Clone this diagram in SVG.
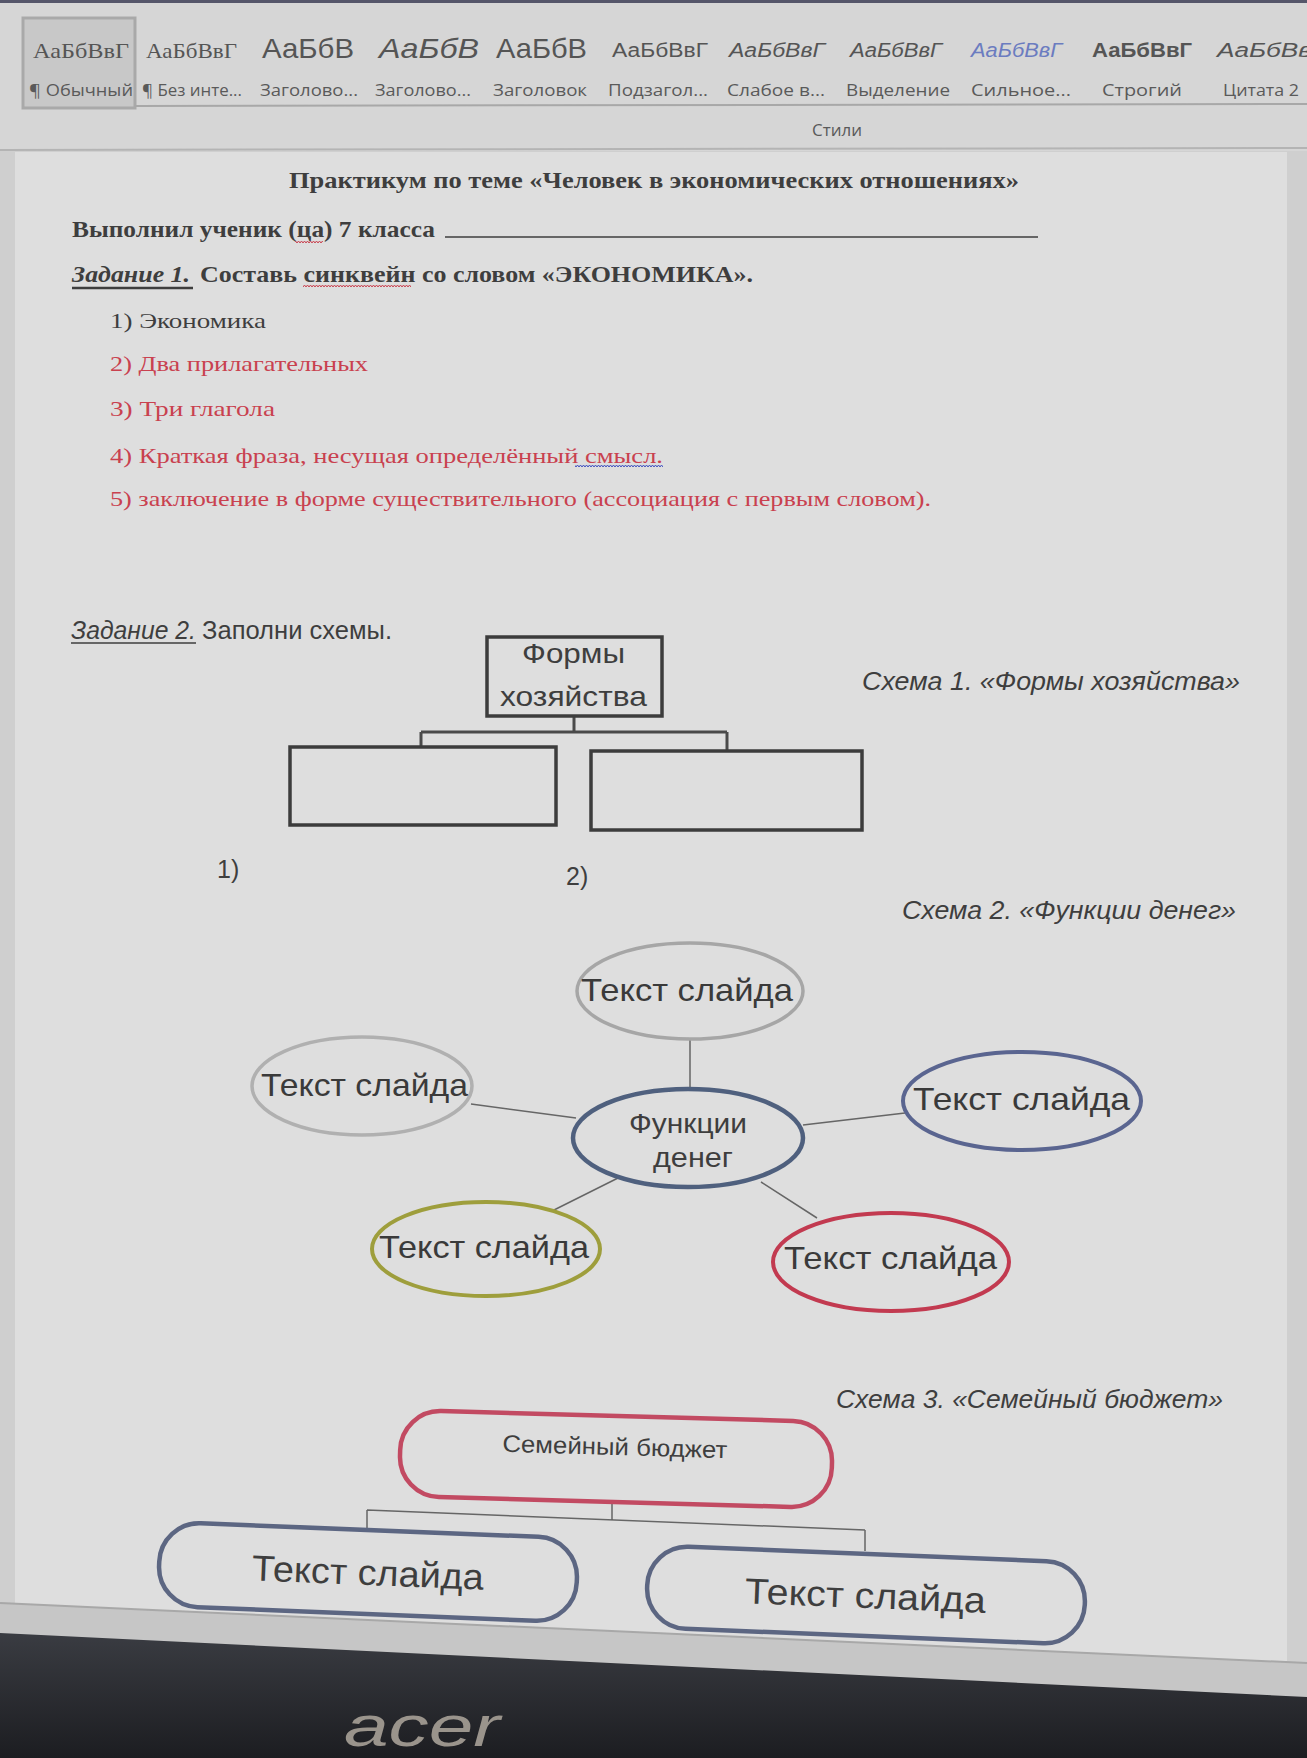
<svg xmlns="http://www.w3.org/2000/svg" width="1307" height="1758" viewBox="0 0 1307 1758">
<defs>
<style>
.serif{font-family:"Liberation Serif","DejaVu Serif",serif;}
.sans{font-family:"Liberation Sans","DejaVu Sans",sans-serif;}
.ui{font-family:"Open Sans","Liberation Sans",sans-serif;}
.dark{fill:#3e3e3e;}
.red{fill:#c9414f;}
.rib{fill:#555;}
.lbl{font-size:17px;fill:#5a5a5a;}
.box{fill:none;stroke:#3c3c3c;stroke-width:3.5;}
.conn{fill:none;stroke:#4a4a4a;stroke-width:3;}
.thin{fill:none;stroke:#666;stroke-width:1.5;}
.ell{fill:none;}
.slide{font-size:32px;fill:#3a3a3a;text-anchor:start;}
</style>
<pattern id="wavyR" width="6" height="4" patternUnits="userSpaceOnUse">
<path d="M0 3 L1.5 1 L3 3 L4.5 1 L6 3" fill="none" stroke="#c9414f" stroke-width="1"/>
</pattern>
<pattern id="wavyB" width="6" height="4" patternUnits="userSpaceOnUse">
<path d="M0 3 L1.5 1 L3 3 L4.5 1 L6 3" fill="none" stroke="#4050c0" stroke-width="1"/>
</pattern>
<linearGradient id="bez" x1="0" y1="0" x2="0" y2="1">
<stop offset="0" stop-color="#3a3c42"/>
<stop offset="1" stop-color="#1c1d21"/>
</linearGradient>
</defs>

<!-- background -->
<rect x="0" y="0" width="1307" height="1758" fill="#cfcfcf"/>
<rect x="0" y="0" width="1307" height="3" fill="#55566a"/>
<!-- ribbon -->
<g id="ribbon">
<rect x="0" y="3" width="1307" height="148" fill="#d6d6d6"/>
<rect x="23" y="18" width="112" height="90" fill="#c8c8c8" stroke="#a9a9a9" stroke-width="3"/>
<line x1="135" y1="106" x2="1307" y2="104" stroke="#a8a8a8" stroke-width="2"/>
<line x1="0" y1="150" x2="1307" y2="148" stroke="#b4b4b4" stroke-width="2"/>
<text class="serif rib" x="33" y="58" font-size="22" textLength="96" lengthAdjust="spacingAndGlyphs">АаБбВвГ</text>
<text class="serif rib" x="146" y="58" font-size="22" textLength="91" lengthAdjust="spacingAndGlyphs">АаБбВвГ</text>
<text class="sans rib" x="262" y="58" font-size="28" textLength="92" lengthAdjust="spacingAndGlyphs">АаБбВ</text>
<text class="sans rib" x="379" y="58" font-size="28" font-style="italic" textLength="100" lengthAdjust="spacingAndGlyphs">АаБбВ</text>
<text class="sans rib" x="496" y="58" font-size="28" textLength="91" lengthAdjust="spacingAndGlyphs">АаБбВ</text>
<text class="sans rib" x="612" y="57" font-size="20" textLength="96" lengthAdjust="spacingAndGlyphs">АаБбВвГ</text>
<text class="sans rib" x="729" y="57" font-size="20" font-style="italic" textLength="96" lengthAdjust="spacingAndGlyphs">АаБбВвГ</text>
<text class="sans rib" x="850" y="57" font-size="20" font-style="italic" textLength="92" lengthAdjust="spacingAndGlyphs">АаБбВвГ</text>
<text class="sans" x="971" y="57" font-size="20" font-style="italic" fill="#6b7cc0" textLength="91" lengthAdjust="spacingAndGlyphs">АаБбВвГ</text>
<text class="sans rib" x="1092" y="57" font-size="20" font-weight="bold" textLength="100" lengthAdjust="spacingAndGlyphs">АаБбВвГ</text>
<text class="sans rib" x="1217" y="57" font-size="20" font-style="italic" textLength="95" lengthAdjust="spacingAndGlyphs">АаБбВв</text>
<text class="ui lbl" x="29" y="96" textLength="104" lengthAdjust="spacingAndGlyphs">¶ Обычный</text>
<text class="ui lbl" x="142" y="96" textLength="100" lengthAdjust="spacingAndGlyphs">¶ Без инте...</text>
<text class="ui lbl" x="260" y="96" textLength="98" lengthAdjust="spacingAndGlyphs">Заголово...</text>
<text class="ui lbl" x="375" y="96" textLength="96" lengthAdjust="spacingAndGlyphs">Заголово...</text>
<text class="ui lbl" x="493" y="96" textLength="94" lengthAdjust="spacingAndGlyphs">Заголовок</text>
<text class="ui lbl" x="608" y="96" textLength="100" lengthAdjust="spacingAndGlyphs">Подзагол...</text>
<text class="ui lbl" x="727" y="96" textLength="98" lengthAdjust="spacingAndGlyphs">Слабое в...</text>
<text class="ui lbl" x="846" y="96" textLength="104" lengthAdjust="spacingAndGlyphs">Выделение</text>
<text class="ui lbl" x="971" y="96" textLength="100" lengthAdjust="spacingAndGlyphs">Сильное...</text>
<text class="ui lbl" x="1102" y="96" textLength="80" lengthAdjust="spacingAndGlyphs">Строгий</text>
<text class="ui lbl" x="1223" y="96" textLength="76" lengthAdjust="spacingAndGlyphs">Цитата 2</text>
<text class="ui lbl" x="812" y="136" textLength="50" lengthAdjust="spacingAndGlyphs">Стили</text>
</g>

<!-- page -->
<rect x="15" y="152" width="1272" height="1560" fill="#dedede"/>

<g id="header-text">
<text class="serif dark" x="289" y="188" font-size="24" font-weight="bold" textLength="730" lengthAdjust="spacingAndGlyphs">Практикум по теме «Человек в экономических отношениях»</text>
<text class="serif dark" x="72" y="237" font-size="24" font-weight="bold" textLength="363" lengthAdjust="spacingAndGlyphs">Выполнил ученик (ца) 7 класса</text>
<line x1="445" y1="237" x2="1038" y2="237" stroke="#3e3e3e" stroke-width="1.5"/>
<rect x="295" y="240" width="28" height="4" fill="url(#wavyR)"/>
<text class="serif dark" x="72" y="282" font-size="24" font-weight="bold" font-style="italic" textLength="118" lengthAdjust="spacingAndGlyphs">Задание 1.</text>
<line x1="72" y1="288" x2="193" y2="288" stroke="#3e3e3e" stroke-width="2.5"/>
<text class="serif dark" x="200" y="282" font-size="24" font-weight="bold" textLength="553" lengthAdjust="spacingAndGlyphs">Составь синквейн со словом «ЭКОНОМИКА».</text>
<rect x="303" y="284" width="108" height="4" fill="url(#wavyR)"/>
<text class="serif dark" x="110" y="328" font-size="22" textLength="156" lengthAdjust="spacingAndGlyphs">1)  Экономика</text>
<text class="serif red" x="110" y="371" font-size="22" textLength="258" lengthAdjust="spacingAndGlyphs">2)  Два прилагательных</text>
<text class="serif red" x="110" y="416" font-size="22" textLength="165" lengthAdjust="spacingAndGlyphs">3)  Три глагола</text>
<text class="serif red" x="110" y="463" font-size="22" textLength="553" lengthAdjust="spacingAndGlyphs">4)  Краткая фраза, несущая определённый смысл.</text>
<rect x="575" y="464" width="88" height="4" fill="url(#wavyB)"/>
<text class="serif red" x="110" y="506" font-size="22" textLength="821" lengthAdjust="spacingAndGlyphs">5)  заключение в форме существительного (ассоциация с первым словом).</text>
</g>

<g id="task2">
<text class="sans dark" x="71" y="639" font-size="25" font-style="italic" textLength="125" lengthAdjust="spacingAndGlyphs">Задание 2.</text>
<line x1="71" y1="643" x2="196" y2="643" stroke="#3e3e3e" stroke-width="1.5"/>
<text class="sans dark" x="202" y="639" font-size="25" textLength="190" lengthAdjust="spacingAndGlyphs">Заполни схемы.</text>
<text class="sans dark" x="862" y="690" font-size="25" font-style="italic" textLength="378" lengthAdjust="spacingAndGlyphs">Схема 1. «Формы хозяйства»</text>
<text class="sans dark" x="902" y="919" font-size="25" font-style="italic" textLength="334" lengthAdjust="spacingAndGlyphs">Схема 2. «Функции денег»</text>
<text class="sans dark" x="836" y="1408" font-size="25" font-style="italic" textLength="387" lengthAdjust="spacingAndGlyphs">Схема 3. «Семейный бюджет»</text>
<text class="sans dark" x="217" y="878" font-size="25">1)</text>
<text class="sans dark" x="566" y="885" font-size="25">2)</text>
</g>

<!-- connectors -->
<g id="connectors">
<path class="conn" d="M574 716 V732 M421 732 H727 M421 732 V747 M727 732 V751"/>
<path class="thin" d="M690 1040 V1088 M471 1104 L576 1118 M803 1125 L905 1113 M618 1178 L554 1210 M761 1182 L817 1218"/>
<path class="thin" d="M612 1503 V1520 M367 1510 L865 1530 M367 1510 V1528 M865 1530 V1551"/>
</g>

<!-- schema 1 -->
<g id="node-formy">
<rect class="box" x="487" y="637" width="175" height="79"/>
<text class="sans dark" x="522" y="663" font-size="28" textLength="103" lengthAdjust="spacingAndGlyphs">Формы</text>
<text class="sans dark" x="500" y="706" font-size="28" textLength="147" lengthAdjust="spacingAndGlyphs">хозяйства</text>
</g>
<g id="node-form1"><rect class="box" x="290" y="747" width="266" height="78"/></g>
<g id="node-form2"><rect class="box" x="591" y="751" width="271" height="79"/></g>

<!-- schema 2 -->
<g id="node-top">
<ellipse class="ell" cx="690" cy="991" rx="113" ry="48" stroke="#a6a6a6" stroke-width="3.5"/>
<text class="sans slide" x="581" y="1001" textLength="212" lengthAdjust="spacingAndGlyphs">Текст слайда</text>
</g>
<g id="node-left">
<ellipse class="ell" cx="362" cy="1086" rx="110" ry="49" stroke="#b0b0b0" stroke-width="3.5"/>
<text class="sans slide" x="261" y="1096" textLength="207" lengthAdjust="spacingAndGlyphs">Текст слайда</text>
</g>
<g id="node-right">
<ellipse class="ell" cx="1022" cy="1101" rx="119" ry="49" stroke="#5a6590" stroke-width="4"/>
<text class="sans slide" x="913" y="1110" textLength="217" lengthAdjust="spacingAndGlyphs">Текст слайда</text>
</g>
<g id="node-center">
<ellipse class="ell" cx="688" cy="1138" rx="115" ry="49" stroke="#4f607e" stroke-width="4.5"/>
<text class="sans dark" x="629" y="1133" font-size="27" textLength="118" lengthAdjust="spacingAndGlyphs">Функции</text>
<text class="sans dark" x="653" y="1167" font-size="27" textLength="80" lengthAdjust="spacingAndGlyphs">денег</text>
</g>
<g id="node-bl">
<ellipse class="ell" cx="486" cy="1249" rx="114" ry="47" stroke="#9e9e3c" stroke-width="4"/>
<text class="sans slide" x="379" y="1258" textLength="210" lengthAdjust="spacingAndGlyphs">Текст слайда</text>
</g>
<g id="node-br">
<ellipse class="ell" cx="891" cy="1262" rx="118" ry="49" stroke="#c23a50" stroke-width="4"/>
<text class="sans slide" x="784" y="1269" textLength="213" lengthAdjust="spacingAndGlyphs">Текст слайда</text>
</g>

<!-- schema 3 -->
<g id="node-budget" transform="rotate(1.6 616 1459)">
<rect x="400" y="1416" width="432" height="86" rx="40" fill="none" stroke="#c24a62" stroke-width="4.5"/>
<text class="sans dark" x="502" y="1455" font-size="24" textLength="225" lengthAdjust="spacingAndGlyphs">Семейный бюджет</text>
</g>
<g id="node-b1" transform="rotate(2.3 368 1572)">
<rect x="159" y="1530" width="418" height="84" rx="40" fill="none" stroke="#5c6682" stroke-width="4.5"/>
<text class="sans dark" x="252" y="1585" font-size="36" textLength="232" lengthAdjust="spacingAndGlyphs">Текст слайда</text>
</g>
<g id="node-b2" transform="rotate(2.3 866 1595)">
<rect x="647" y="1554" width="438" height="82" rx="40" fill="none" stroke="#5c6682" stroke-width="4.5"/>
<text class="sans dark" x="745" y="1608" font-size="36" textLength="241" lengthAdjust="spacingAndGlyphs">Текст слайда</text>
</g>

<!-- screen bottom and bezel -->
<polygon points="0,1603 1307,1663 1307,1758 0,1758" fill="#c6c6c6"/>
<line x1="0" y1="1603" x2="1307" y2="1663" stroke="#a8a8a8" stroke-width="2"/>
<polygon points="0,1633 1307,1697 1307,1758 0,1758" fill="url(#bez)"/>
<text class="sans" x="344" y="1746" font-size="58" font-style="italic" fill="#9a948c" textLength="156" lengthAdjust="spacingAndGlyphs">acer</text>
</svg>
